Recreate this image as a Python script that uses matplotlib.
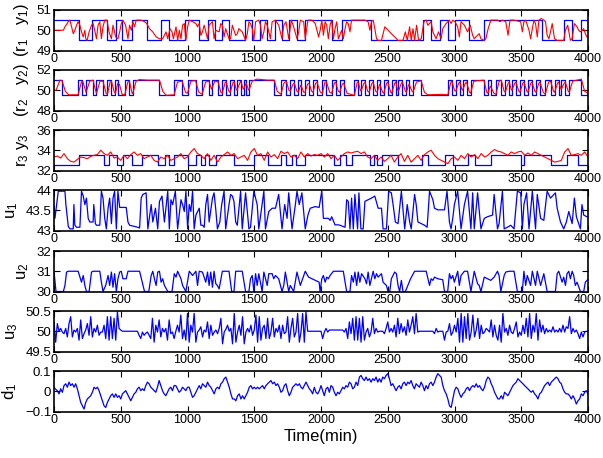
import matplotlib.pyplot as plt
import numpy as np
from matplotlib import font_manager

names = {f.name for f in font_manager.fontManager.ttflist}
base = 'Liberation Sans Narrow' if 'Liberation Sans Narrow' in names else 'Liberation Sans'
plt.rcParams['font.family'] = [base, 'DejaVu Sans']
plt.rcParams['mathtext.fontset'] = 'custom'
plt.rcParams['mathtext.rm'] = base
plt.rcParams['mathtext.it'] = base + ':italic'

# ---- set-points (step signals): switch times, level alternates starting from first level
r1_switch = [0, 189, 288, 397, 462, 512, 586, 695, 802, 859, 983, 1083, 1150, 1207, 1256, 1311,
             1430, 1480, 1540, 1597, 1659, 1708, 1758, 1820, 1882, 2080, 2155, 2378, 2763, 2826,
             2888, 2950, 3000, 3111, 3223, 3658, 3820, 3882, 3944]
r1_levels = [50.5, 49.5]

r2_switch = [0, 57, 181, 206, 243, 293, 318, 367, 400, 430, 460, 480, 530, 560, 590, 790, 900, 960,
             1000, 1060, 1110, 1160, 1180, 1230, 1260, 1290, 1320, 1350, 1370, 1400, 1420, 1440,
             1460, 1650, 1700, 1740, 1770, 1800, 1830, 1850, 1880, 1910, 1940, 1970, 2010, 2040,
             2080, 2110, 2140, 2170, 2250, 2280, 2300, 2330, 2360, 2390, 2420, 2440, 2470, 2500,
             2530, 2560, 2580, 2610, 2640, 2660, 2690, 2750, 2950, 2980, 3010, 3040, 3060, 3090,
             3120, 3220, 3250, 3270, 3310, 3350, 3380, 3410, 3430, 3460, 3490, 3520, 3550, 3580,
             3610, 3640, 3680, 3720, 3750, 3780, 3800, 3830, 3860, 3950]
r2_levels = [51.0, 49.5]

r3_switch = [0, 185, 372, 409, 472, 515, 586, 658, 780, 830, 860, 900, 1000, 1060, 1100, 1130,
             1160, 1210, 1350, 1500, 1600, 1700, 1740, 1780, 1810, 1880, 2100, 2140, 2190, 2230,
             2370, 2395, 2420, 2460, 2580, 2760, 2800, 2930, 2990, 3100, 3150, 3270, 3500, 3520,
             3720, 3840, 3925]
r3_levels = [32.5, 33.5]

# ---- outputs
y1_t = [0, 70, 82, 107, 119, 132, 144, 156, 169, 181, 194, 206, 219, 231, 238, 248, 263, 281, 293,
        305, 318, 330, 343, 355, 367, 380, 397, 412, 430, 442, 462, 479, 492, 504, 516, 536, 554,
        566, 579, 591, 603, 616, 653, 678, 695, 715, 740, 765, 790, 814, 839, 852, 869, 884, 894,
        914, 926, 939, 951, 963, 976, 988, 1001, 1013, 1038, 1063, 1075, 1088, 1100, 1112, 1125,
        1137, 1150, 1162, 1187, 1199, 1212, 1237, 1249, 1261, 1274, 1286, 1311, 1323, 1336, 1348,
        1361, 1373, 1385, 1410, 1435, 1448, 1460, 1472, 1485, 1497, 1510, 1534, 1547, 1559, 1572,
        1584, 1597, 1609, 1621, 1634, 1659, 1683, 1708, 1721, 1738, 1758, 1778, 1795, 1820, 1833,
        1845, 1870, 1882, 1902, 1932, 1957, 1982, 1994,
        2006, 2018, 2031, 2043, 2055, 2068, 2080, 2093, 2105, 2118, 2130, 2155, 2167, 2180, 2192,
        2204, 2217, 2229, 2329, 2353, 2366, 2378, 2391, 2403, 2416, 2428, 2453, 2478, 2502, 2527,
        2552, 2577, 2614, 2632, 2646, 2664, 2676, 2689, 2701, 2716, 2731, 2751, 2771, 2788, 2800,
        2825, 2838, 2862, 2880, 2900, 2912, 2937, 2962, 2974, 2987, 3004, 3024, 3036, 3049, 3074,
        3098, 3118, 3136, 3148, 3160, 3185, 3198, 3223, 3235, 3252, 3272, 3322, 3342, 3359, 3384,
        3401, 3416, 3446, 3496, 3508, 3520, 3533, 3558, 3570, 3583, 3595, 3607, 3620, 3632, 3650,
        3669, 3682, 3694, 3707, 3719, 3732, 3749, 3769, 3818, 3831, 3848, 3868, 3881, 3898, 3918,
        3930, 3943, 3968, 3980, 3992]
y1_v = [50.0, 50.0, 50.17, 50.42, 50.5, 50.17, 49.83, 50.0, 50.25, 50.42, 50.25, 49.92, 49.67, 50.0,
        49.58, 49.5, 49.92, 50.25, 50.33, 50.0, 49.58, 50.25, 50.42, 49.58, 50.17, 50.5, 50.5, 49.92,
        49.58, 50.25, 49.67, 49.58, 49.92, 50.33, 50.5, 50.25, 49.58, 50.25, 50.0, 50.42, 50.17,
        50.5, 50.5, 50.42, 50.33, 50.08, 49.92, 49.67, 49.58, 49.58, 49.92, 49.58, 50.08, 49.92,
        49.58, 50.17, 49.5, 50.0, 49.58, 50.25, 50.33, 49.5, 50.17, 50.5, 50.42, 50.33, 50.17, 50.33,
        49.75, 49.92, 50.25, 49.92, 49.58, 50.25, 50.42, 49.58, 50.0, 49.92, 50.33, 50.25, 49.67,
        50.08, 49.58, 49.58, 50.25, 50.0, 49.75, 49.83, 50.08, 49.92, 49.5, 49.83, 50.42, 50.33,
        50.08, 49.5, 50.42, 50.5, 50.25, 49.58, 49.92, 50.42, 50.25, 49.92, 49.58, 50.42, 50.5,
        50.25, 49.58, 50.25, 50.42, 49.58, 50.5, 50.17, 49.58, 49.92, 50.5, 50.42, 49.58, 50.5,
        50.5, 50.33, 49.67, 50.0,
        50.5, 49.75, 50.42, 50.25, 49.58, 50.25, 50.5, 49.58, 50.08, 50.42, 49.58, 50.0, 49.58,
        50.08, 50.42, 50.33, 49.92, 50.5, 50.5, 50.42, 50.0, 50.42, 50.5, 50.08, 49.58, 49.5, 49.5,
        50.17, 50.0, 49.83, 49.67, 49.5, 49.5, 49.92, 49.5, 50.17, 49.5, 50.08, 49.5, 50.25, 49.5,
        49.58, 50.42, 50.5, 50.25, 50.42, 49.92, 49.58, 49.92, 49.58, 50.08, 50.33, 50.5, 50.33,
        50.5, 50.42, 50.17, 49.67, 50.42, 50.25, 49.92, 50.25, 49.75, 49.58, 49.67, 49.83, 49.58,
        49.5, 49.58, 50.08, 50.5, 50.5, 50.42, 50.5, 50.42, 49.75, 50.5, 50.5, 50.42, 49.92, 50.42,
        50.5, 50.0, 49.58, 50.08, 50.5, 50.33, 49.67, 50.5, 50.58, 50.5, 50.42, 49.75, 49.58, 49.92,
        50.33, 49.58, 49.5, 49.5, 50.0, 50.25, 49.5, 49.58, 50.33, 50.17, 50.0, 49.92, 50.08, 49.83,
        49.67]

y2_t = [0, 15, 45, 60, 85, 110, 180, 205, 215, 240, 268, 293, 305, 318, 345, 367, 390, 400, 420,
        430, 452, 460, 478, 490, 510, 530, 553, 565, 585, 590, 615, 640, 700, 790, 815, 840, 900,
        925, 960, 985, 1000, 1025, 1060, 1085, 1110, 1135, 1160, 1175, 1180, 1205, 1230, 1250,
        1260, 1283, 1290, 1310, 1320, 1342, 1350, 1365, 1370, 1395, 1400, 1415, 1420, 1437, 1440,
        1455, 1460, 1485, 1520, 1600, 1650, 1672, 1700, 1722, 1740, 1760, 1770, 1790, 1800, 1820,
        1830, 1845, 1850, 1870, 1880, 1900, 1910, 1930, 1940, 1960, 1970, 1995, 2010, 2030, 2040,
        2065, 2080, 2100, 2110, 2130, 2140, 2160, 2170, 2195, 2250, 2272, 2280, 2295, 2300, 2322,
        2330, 2350, 2360, 2382, 2390, 2410, 2420, 2437, 2440, 2462, 2470, 2492, 2500, 2522, 2530,
        2552, 2560, 2575, 2580, 2602, 2610, 2632, 2640, 2655, 2660, 2682, 2690, 2715, 2750, 2775,
        2800, 2900, 2950, 2973, 2980, 3000, 3010, 3032, 3040, 3055, 3060, 3082, 3090, 3112, 3120,
        3145, 3220, 3242, 3250, 3265, 3270, 3295, 3310, 3335, 3350, 3372, 3380, 3402, 3410, 3425,
        3430, 3452, 3460, 3482, 3490, 3512, 3520, 3542, 3550, 3572, 3580, 3602, 3610, 3632, 3640,
        3665, 3680, 3705, 3720, 3742, 3750, 3772, 3780, 3795, 3800, 3822, 3830, 3852, 3860, 3885,
        3950, 3975, 4000]
y2_v = [50.0, 50.0, 51.0, 50.95, 49.9, 49.55, 49.55, 50.8, 50.9, 49.8, 50.9, 51.0, 50.3, 49.7, 50.9,
        50.9, 49.7, 49.6, 50.8, 50.9, 49.8, 49.7, 50.7, 50.6, 49.6, 49.55, 50.8, 50.9, 49.7, 49.65,
        50.9, 51.05, 51.0, 51.0, 49.9, 49.5, 49.55, 50.8, 50.9, 49.8, 49.7, 50.9, 50.95, 49.8, 49.6,
        50.8, 50.9, 50.3, 50.1, 50.9, 50.8, 49.8, 49.7, 50.8, 50.8, 49.9, 49.8, 50.8, 50.8, 50.1,
        50.0, 50.8, 50.9, 50.2, 50.1, 50.6, 50.7, 50.1, 50.0, 50.9, 51.1, 51.0, 51.0, 49.9, 49.6,
        50.7, 50.9, 50.0, 49.9, 50.6, 50.7, 49.9, 49.8, 50.4, 50.5, 49.8, 49.8, 50.6, 50.7, 49.9,
        49.8, 50.7, 50.8, 49.8, 49.7, 50.8, 50.85, 49.8, 49.7, 50.7, 50.8, 49.9, 49.8, 50.6, 50.7,
        49.7, 49.5, 50.8, 50.8, 50.0, 49.9, 50.7, 50.8, 49.9, 49.8, 50.7, 50.8, 49.9, 49.8, 50.5,
        50.6, 49.8, 49.7, 50.7, 50.8, 49.8, 49.7, 50.7, 50.8, 50.0, 49.9, 50.7, 50.8, 49.9, 49.8,
        50.5, 50.6, 49.9, 49.8, 50.8, 50.95, 49.8, 49.55, 49.6, 49.55, 50.8, 50.9, 50.0, 49.9, 50.7,
        50.8, 50.1, 50.0, 50.7, 50.8, 49.8, 49.7, 50.9, 51.0, 49.8, 49.7, 50.3, 50.4, 49.7, 49.6,
        50.9, 51.0, 49.9, 49.8, 50.7, 50.8, 50.1, 50.0, 50.7, 50.8, 49.9, 49.8, 50.7, 50.8, 49.9,
        49.8, 50.7, 50.8, 49.9, 49.8, 50.7, 50.8, 49.8, 49.6, 50.8, 50.9, 49.9, 49.8, 50.7, 50.8,
        50.2, 50.1, 50.7, 50.8, 49.9, 49.8, 50.9, 51.1, 49.9, 49.7]

# y3 read every 25 min
y3 = [33.33, 33.43, 33.23, 33.67, 33.17, 32.9, 32.83, 33.1, 33.33, 33.27,
      33.17, 33.4, 33.5, 33.57, 34.0, 33.67, 33.5, 33.83, 33.23, 33.33,
      33.0, 33.5, 33.17, 33.57, 33.83, 33.5, 33.67, 33.17, 33.33, 33.5,
      33.0, 32.83, 33.33, 33.17, 33.5, 33.0, 33.17, 33.33, 33.67, 33.17,
      33.33, 33.83, 34.17, 33.67, 33.5, 33.17, 33.67, 33.0, 33.5, 32.83,
      33.33, 33.57, 33.83, 33.5, 33.67, 33.17, 33.33, 33.5, 33.0, 33.83,
      34.17, 33.5, 33.67, 33.0, 33.83, 33.33, 33.57, 33.17, 33.9, 33.67,
      33.83, 33.33, 33.5, 33.17, 33.83, 33.33, 33.67, 33.43, 33.57, 33.5,
      33.67,
      33.33, 33.67, 33.17, 33.5, 33.0, 33.33, 33.67, 33.83, 33.73, 33.83,
      33.9, 33.67, 33.83, 33.33, 33.17, 33.5, 33.0, 33.33, 32.9, 33.17,
      33.5, 32.83, 33.33, 33.67, 32.9, 33.5, 32.83, 33.17, 33.5, 33.0,
      33.57, 33.83, 34.0, 33.5, 33.17, 33.0, 32.83, 32.67, 33.17, 33.33,
      33.0, 33.5, 33.17, 33.67, 33.33, 33.57, 33.17, 33.67, 33.33, 33.5,
      33.83, 34.07, 33.9, 33.83, 33.67, 33.5, 33.83, 33.67, 33.83, 33.9,
      33.5, 33.73, 33.5, 33.83, 33.67, 33.5, 33.33, 33.17, 33.0, 32.83,
      32.9, 33.0, 33.83, 34.17, 33.5, 33.57, 33.67, 33.5, 33.83, 33.33]

# ---- manipulated variables
u1_t = [0, 7, 32, 82, 89, 107, 119, 144, 149, 156, 169, 194, 206, 219, 231, 243, 256, 268, 293, 298,
        310, 318, 343, 355, 367, 380, 392, 405, 417, 430, 442, 454, 467, 479, 492, 541, 554, 566,
        628, 641, 653, 665, 690, 703, 728, 740, 760, 777, 790, 809, 827, 852, 864, 876, 889, 909,
        926, 951, 963, 976, 988, 1001, 1013, 1025, 1038, 1050, 1063, 1088, 1100, 1112, 1125, 1137,
        1150, 1162, 1187, 1199, 1212, 1224, 1242, 1256, 1274, 1286, 1311, 1323, 1336, 1348, 1361,
        1373, 1398, 1410, 1435, 1460, 1472, 1497, 1522, 1534, 1559, 1572, 1584, 1609, 1634, 1659,
        1683, 1708, 1728, 1746, 1758, 1783, 1808, 1820, 1837, 1857, 1882, 1902, 1919, 1957, 1986,
        2006, 2018, 2031, 2055, 2068, 2080, 2105, 2130, 2142, 2180, 2192, 2204, 2217, 2229, 2242,
        2254, 2274, 2284, 2299, 2316, 2329, 2378, 2403, 2428, 2453, 2465, 2490, 2507, 2527, 2540,
        2557, 2577, 2602, 2627, 2646, 2664, 2676, 2701, 2713, 2726, 2751, 2776, 2795, 2813, 2838,
        2850, 2875, 2925, 2944, 2962, 2974, 2987, 2999, 3024, 3049, 3074, 3098, 3123, 3136, 3148,
        3173, 3198, 3223, 3247, 3285, 3297, 3322, 3334, 3359, 3372, 3396, 3421, 3446, 3471, 3496,
        3508, 3520, 3540, 3558, 3583, 3607, 3620, 3645, 3669, 3694, 3719, 3744, 3756, 3769, 3794,
        3818, 3838, 3856, 3881, 3898, 3913, 3943, 3955, 3968, 3992, 4000]
u1_v = [43.6, 43.3, 43.97, 43.97, 43.64, 43.1, 43.04, 43.04, 43.64, 43.13, 43.08, 43.08, 43.97,
        43.85, 43.64, 43.8, 43.3, 43.21, 43.21, 43.64, 43.17, 43.13, 43.13, 43.97, 43.8, 43.3,
        43.04, 43.55, 43.8, 43.17, 43.8, 43.97, 43.04, 43.97, 43.57, 43.57, 43.21, 43.13, 43.08,
        43.06, 43.8, 43.89, 43.93, 43.04, 43.64, 43.21, 43.55, 43.04, 43.72, 43.85, 43.21, 43.97,
        43.04, 43.76, 43.64, 43.97, 43.04, 43.76, 43.64, 43.47, 43.97, 43.04, 43.64, 43.47, 43.97,
        43.04, 43.38, 43.55, 43.13, 43.13, 43.08, 43.64, 43.89, 43.21, 43.8, 43.93, 43.51, 43.04,
        43.21, 43.64, 43.97, 43.04, 43.64, 43.89, 43.85, 43.72, 43.21, 43.13, 43.97, 43.04, 43.93,
        43.04, 43.08, 43.97, 43.64, 43.04, 43.64, 43.97, 43.04, 43.47, 43.55, 43.55, 43.89, 43.04,
        43.64, 43.3, 43.93, 43.04, 43.64, 43.97, 43.64, 43.93, 43.04, 43.38, 43.55, 43.59, 43.57,
        43.97, 43.3, 43.3, 43.3, 43.25, 43.34, 43.14, 43.14, 43.13, 43.08, 43.76, 43.72, 43.04,
        43.8, 43.04, 43.89, 43.04, 43.93, 43.04, 43.04, 43.72, 43.8, 43.85, 43.55, 43.55, 43.04,
        43.04, 43.97, 43.93, 43.64, 43.21, 43.17, 43.97, 43.04, 43.64, 43.21, 43.04, 43.89, 43.64,
        43.21, 43.17, 43.13, 43.08, 43.97, 43.76, 43.55, 43.51, 43.51, 43.97, 43.21, 43.04, 43.3,
        43.64, 43.97, 43.04, 43.64, 43.97, 43.04, 43.93, 43.04, 43.93, 43.04, 43.3, 43.34, 43.38,
        43.89, 43.04, 43.17, 43.97, 43.04, 43.08, 43.13, 43.04, 43.97, 43.93, 43.04, 43.64, 43.93,
        43.04, 43.97, 43.04, 43.89, 43.3, 43.25, 43.97, 43.8, 43.89, 43.93, 43.55, 43.21, 43.04,
        43.21, 43.47, 43.17, 43.8, 43.34, 43.04, 43.64, 43.38, 43.34, 43.34]

u2_t = [0, 15, 70, 82, 94, 107, 181, 206, 219, 231, 243, 263, 281, 293, 343, 355, 367, 387, 405,
        417, 430, 442, 454, 467, 479, 492, 504, 516, 541, 554, 641, 678, 710, 728, 740, 752, 765,
        777, 790, 802, 814, 827, 852, 884, 901, 914, 926, 951, 963, 988, 1013, 1038, 1063, 1075,
        1088, 1112, 1137, 1150, 1162, 1174, 1187, 1199, 1212, 1224, 1237, 1261, 1311, 1331, 1348,
        1361, 1410, 1435, 1460, 1472, 1485, 1497, 1510, 1522, 1534, 1559, 1572, 1597, 1609, 1634,
        1646, 1659, 1683, 1708, 1721, 1733, 1758, 1770, 1795, 1820, 1845, 1882, 1907, 1932, 1957,
        1986, 1993, 2006, 2018, 2031, 2043, 2055, 2068, 2093, 2167, 2192, 2217, 2229, 2242, 2254,
        2267, 2279, 2291, 2304, 2329, 2341, 2353, 2366, 2391, 2403, 2416, 2428, 2453, 2465, 2478,
        2490, 2502, 2515, 2527, 2552, 2565, 2577, 2589, 2602, 2614, 2632, 2651, 2671, 2701, 2788,
        2813, 2825, 2838, 2850, 2875, 2912, 2925, 2949, 2962, 2974, 2987, 2999, 3024, 3036, 3049,
        3074, 3098, 3123, 3148, 3173, 3185, 3198, 3223, 3247, 3272, 3297, 3322, 3334, 3347, 3372,
        3384, 3409, 3446, 3471, 3508, 3520, 3533, 3545, 3570, 3583, 3607, 3620, 3645, 3669, 3694,
        3756, 3769, 3781, 3806, 3818, 3831, 3843, 3856, 3868, 3881, 3893, 3905, 3918, 3943, 3968,
        3980, 4000]
u2_v = [31.0, 30.0, 30.0, 30.3, 30.96, 31.0, 31.0, 30.46, 30.79, 30.3, 30.0, 30.0, 30.96, 31.0,
        31.0, 30.46, 30.0, 30.3, 30.79, 30.3, 30.96, 30.21, 30.88, 30.0, 30.63, 30.96, 31.0, 30.63,
        30.63, 31.0, 31.0, 30.0, 30.0, 30.79, 31.0, 30.63, 30.3, 30.96, 31.0, 30.46, 30.63, 30.3,
        30.0, 30.0, 30.88, 30.71, 31.0, 30.63, 30.3, 30.0, 31.0, 30.79, 31.0, 30.3, 31.0, 30.96,
        30.46, 30.96, 30.3, 30.96, 30.21, 31.0, 30.38, 30.3, 30.13, 31.0, 31.0, 30.0, 30.0, 31.0,
        31.0, 30.0, 30.0, 30.63, 30.79, 30.0, 30.88, 30.3, 30.88, 30.0, 30.96, 30.3, 30.88, 30.88,
        30.63, 30.79, 30.63, 30.0, 30.3, 30.96, 30.0, 30.3, 30.0, 30.96, 30.3, 31.0, 30.71, 30.63,
        30.55, 30.46, 30.0, 30.63, 30.79, 30.46, 30.71, 30.63, 30.79, 31.0, 31.0, 30.0, 30.0,
        30.79, 30.46, 30.96, 30.3, 30.96, 30.46, 30.88, 30.63, 30.38, 30.96, 30.3, 31.0, 30.63,
        30.88, 30.71, 30.88, 30.46, 30.38, 30.3, 30.0, 30.0, 30.63, 30.96, 30.88, 30.3, 30.0,
        30.55, 30.0, 30.0, 30.3, 30.63, 31.0, 31.0, 30.3, 30.63, 30.55, 30.71, 30.63, 30.58, 30.0,
        30.0, 30.88, 30.63, 30.79, 30.46, 31.0, 30.3, 30.79, 31.0, 31.0, 30.0, 31.0, 30.38, 30.3,
        30.0, 30.71, 30.63, 30.55, 30.71, 31.0, 30.79, 30.0, 30.79, 30.96, 31.0, 31.0, 30.0, 30.0,
        31.0, 30.3, 30.79, 30.3, 31.0, 30.3, 31.0, 30.3, 30.88, 30.0, 30.0, 30.88, 31.0, 30.46,
        30.71, 30.3, 30.88, 31.0, 30.63, 31.0, 30.79, 30.3, 30.46, 30.0, 30.0, 30.46, 30.6]

# u3 and d1 read every 12.5 min
u3 = [50.23, 49.73, 50.19, 50.0, 50.07, 49.98, 49.94, 50.07, 49.86, 50.19, 50.36, 49.86, 50.03, 49.98,
      50.07, 49.78, 50.28, 49.82, 49.94, 50.03, 50.19, 49.9, 50.36, 49.86, 50.07, 49.98, 50.15, 49.9,
      49.98, 49.98, 50.15, 49.82, 50.36, 49.78, 50.36, 49.82, 50.32, 49.78, 50.48, 50.07, 50.03,
      50.0, 50.0, 50.0, 50.0, 50.0, 50.0, 50.0, 50.0, 50.0, 50.0, 49.9, 49.82, 49.98, 49.9, 49.95,
      49.98, 49.9, 49.82, 50.32, 49.73, 50.15, 49.98, 50.28, 49.86, 50.07, 49.98, 50.07, 49.78,
      50.28, 49.94, 49.98, 49.82, 50.0, 50.15, 49.98, 50.4, 49.82, 50.03, 49.78, 50.44, 49.73,
      50.15, 49.98, 50.44, 49.73, 49.98, 50.03, 50.11, 49.86, 50.03, 49.98, 50.23, 49.82, 50.15,
      49.9, 49.98, 50.03, 49.94, 50.07, 50.32, 49.69, 49.98, 50.05, 50.15, 50.0, 50.07, 49.69,
      50.44, 49.73, 49.98, 50.15, 49.9, 50.36, 49.69, 49.98, 50.07, 49.98, 50.15, 49.9, 50.03,
      50.4, 49.73, 50.36, 49.78, 50.07, 50.15, 49.82, 50.32, 49.82, 49.98, 50.32, 49.86, 50.07,
      49.98, 50.15, 49.82, 50.15, 49.94, 49.98, 50.36, 49.73, 50.07, 50.32, 49.86, 49.98, 50.44,
      49.73, 49.98, 50.44, 49.73, 50.48, 50.0, 50.0, 50.0, 50.0, 50.0, 50.0, 50.0, 50.0, 50.0,
      49.82, 49.98, 50.07, 49.98, 50.03, 50.03, 50.03, 50.03, 50.03, 50.03, 50.03, 50.03, 50.03,
      49.98, 50.07, 49.82, 50.23, 49.94, 50.32, 49.78, 50.36, 49.78, 50.32, 49.73, 50.36, 49.78,
      49.98, 50.07, 49.86, 49.98, 50.32, 49.94, 50.07, 49.98, 50.0, 50.0, 50.0, 49.94, 50.07,
      50.23, 49.98, 50.07, 49.98, 50.15, 49.86, 50.32, 49.94, 50.19, 49.98, 50.11, 49.9, 50.28,
      49.98, 50.15, 50.36, 49.94, 50.44, 49.98, 50.0, 50.0, 50.0, 50.0, 50.0, 50.0, 50.0, 50.0,
      50.0, 49.94, 50.07, 49.98, 50.0, 50.0, 50.0, 49.78, 49.98, 50.0, 50.19, 49.9, 49.98, 50.15,
      49.98, 50.32, 49.73, 50.44, 49.73, 50.36, 49.82, 50.44, 49.78, 49.98, 50.4, 49.86, 50.03,
      50.32, 49.82, 50.15, 49.94, 49.98, 50.07, 50.03, 49.98, 50.28, 49.86, 50.15, 49.9, 49.78,
      50.15, 49.73, 50.44, 49.98, 50.07, 49.9, 50.15, 49.98, 49.94, 50.07, 50.23, 49.86, 49.98,
      49.9, 50.15, 49.94, 50.32, 49.86, 50.44, 49.82, 50.15, 49.98, 50.44, 49.78, 50.28, 49.98,
      50.15, 49.94, 50.07, 49.98, 50.03, 49.98, 50.11, 49.98, 50.03, 49.98, 50.07, 49.98, 50.15,
      49.98, 50.11, 50.07, 50.36, 49.94, 50.07, 49.98, 50.03, 49.94, 49.82, 49.98, 49.86, 49.98,
      50.0, 50.0]

d1 = [0.02, 0.01, 0.003, -0.013, 0.012, -0.005, 0.028, 0.037, 0.02, 0.045, 0.028, 0.037, 0.02,
      0.037, 0.012, -0.022, -0.055, -0.072, -0.088, -0.055, -0.038, -0.03, -0.022, -0.005, 0.02,
      0.012, 0.02, 0.003, -0.022, -0.047, -0.072, -0.08, -0.055, -0.038, -0.022, -0.013, -0.03,
      -0.013, -0.03, -0.022, -0.038, -0.013, -0.005, 0.003, -0.013, -0.03, -0.047, -0.03, -0.013,
      -0.005, 0.012, 0.02, 0.003, 0.012, 0.003, 0.028, 0.045, 0.037, 0.02, 0.012, 0.003, -0.005,
      0.02, 0.053, 0.028, 0.003, -0.013, -0.022, -0.005, 0.012, 0.02, 0.003, 0.028, 0.028, 0.012,
      -0.005, 0.003, 0.02, 0.012, 0.003, 0.02, 0.02, -0.005, -0.03, -0.022, -0.005, 0.012, 0.028,
      0.012, 0.037, 0.028, 0.02, 0.045, 0.028, 0.02, 0.003, -0.013, 0.012, 0.02, 0.012, 0.037,
      0.045, 0.062, 0.07, 0.045, 0.02, -0.013, -0.038, -0.038, -0.047, -0.022, -0.013, -0.038,
      -0.022, -0.038, -0.022, -0.005, 0.02, 0.028, 0.012, 0.02, 0.012, 0.02, 0.012, 0.02, 0.028,
      0.012, 0.028, 0.037, 0.045, 0.053, 0.037, 0.045, 0.028, 0.037, 0.02, -0.005, 0.003, 0.028,
      0.037, 0.003, -0.022, -0.005, 0.02, 0.028, 0.037, 0.028, 0.037, 0.02, 0.012, 0.028, 0.045,
      0.028, 0.012, 0.003, -0.013, 0.02, -0.005, -0.013, 0.003, 0.028,
      0.003, -0.022, 0.012, 0.02, -0.005, 0.028, 0.02, -0.005, -0.022, -0.005, -0.013, 0.003,
      0.02, 0.012, 0.028, 0.02, 0.045, 0.037, 0.012, 0.02, 0.045, 0.028, 0.07, 0.078, 0.062,
      0.053, 0.07, 0.053, 0.062, 0.045, 0.062, 0.053, 0.07, 0.045, 0.062, 0.045, 0.07, 0.062,
      0.078, 0.087, 0.062, 0.028, 0.037, 0.02, 0.003, 0.02, 0.028, 0.012, 0.037, 0.045, 0.028,
      0.045, 0.037, 0.053, 0.028, 0.012, 0.037, 0.028, 0.02, 0.045, 0.028, 0.003, 0.028, 0.012,
      0.037, 0.045, 0.028, 0.045, 0.07, 0.087, 0.078, 0.07, 0.028, 0.003, -0.013, -0.038, -0.072,
      -0.08, -0.038, 0.003, 0.02, 0.012, -0.013, -0.03, -0.013, -0.005, 0.012, 0.02, 0.003, 0.02,
      0.028, 0.02, 0.037, 0.02, 0.028, 0.012, 0.003, 0.02, 0.053, 0.07, 0.062, 0.037, 0.02,
      -0.005, -0.022, -0.038, -0.038, -0.022, -0.038, -0.005, -0.013, -0.022, -0.005, 0.012,
      0.028, 0.037, 0.045, 0.062, 0.053, 0.045, 0.037, 0.028, 0.02, 0.012, 0.003, -0.005, 0.003,
      -0.013, -0.022, -0.038, -0.013, -0.005, 0.012, 0.028, 0.037, 0.045, 0.028, 0.045, 0.053,
      0.062, 0.07, 0.062, 0.045, 0.037, 0.012, -0.005, -0.013, -0.013, -0.022, -0.038, -0.022,
      -0.038, -0.063, -0.047, -0.038, -0.013, -0.022, -0.005, 0.003, -0.013]


def step_series(switch, levels, t_end=4000):
    t = list(switch) + [t_end]
    v = [levels[i % 2] for i in range(len(switch))]
    v.append(v[-1])
    return t, v


panels = [
    ('ref', step_series(r1_switch, r1_levels), (y1_t, y1_v), (49, 51), [49, 50, 51],
     '(r$_1$   y$_1$)'),
    ('ref', step_series(r2_switch, r2_levels), (y2_t, y2_v), (48, 52), [48, 50, 52],
     '(r$_2$   y$_2$)'),
    ('ref', step_series(r3_switch, r3_levels), (np.arange(len(y3)) * 25, y3), (32, 36),
     [32, 34, 36], 'r$_3$ y$_3$'),
    ('u', (u1_t, u1_v), None, (43, 44), [43, 43.5, 44], 'u$_1$'),
    ('u', (u2_t, u2_v), None, (30, 32), [30, 31, 32], 'u$_2$'),
    ('u', (np.arange(len(u3)) * 12.5, u3), None, (49.5, 50.5), [49.5, 50, 50.5], 'u$_3$'),
    ('u', (np.arange(len(d1)) * 12.5, d1), None, (-0.1, 0.1), [-0.1, 0, 0.1], 'd$_1$'),
]

W, H = 603, 458
fig = plt.figure(figsize=(W / 100, H / 100), dpi=100)
left, width = 54 / W, 534 / W
tops = [10, 70, 130, 190, 251, 311, 371]
h = 40.5

for top, (kind, s1, s2, ylim, yticks, lab) in zip(tops, panels):
    ax = fig.add_axes([left, 1 - (top + h) / H, width, h / H])
    if kind == 'ref':
        ax.plot(s1[0], s1[1], color='blue', lw=0.9, drawstyle='steps-post')
        ax.plot(s2[0], s2[1], color='red', lw=0.8)
    else:
        ax.plot(s1[0], s1[1], color='blue', lw=0.9)
    ax.set_xlim(0, 4000)
    ax.set_ylim(*ylim)
    ax.set_xticks(np.arange(0, 4001, 500))
    ax.set_yticks(yticks)
    ax.set_yticklabels([('%g' % v).replace('-', '\u2212') for v in yticks])
    ax.tick_params(direction='in', top=True, right=True, length=4, width=0.8, pad=2)
    ax.tick_params(axis='x', labelsize=9)
    ax.tick_params(axis='y', labelsize=9.5)
    for sp in ax.spines.values():
        sp.set_linewidth(1.2)
    ax.set_ylabel(lab, fontsize=12, labelpad=4)

ax.set_xlabel('Time(min)', fontsize=12, labelpad=2)

fig.savefig('out.png', dpi=100)
